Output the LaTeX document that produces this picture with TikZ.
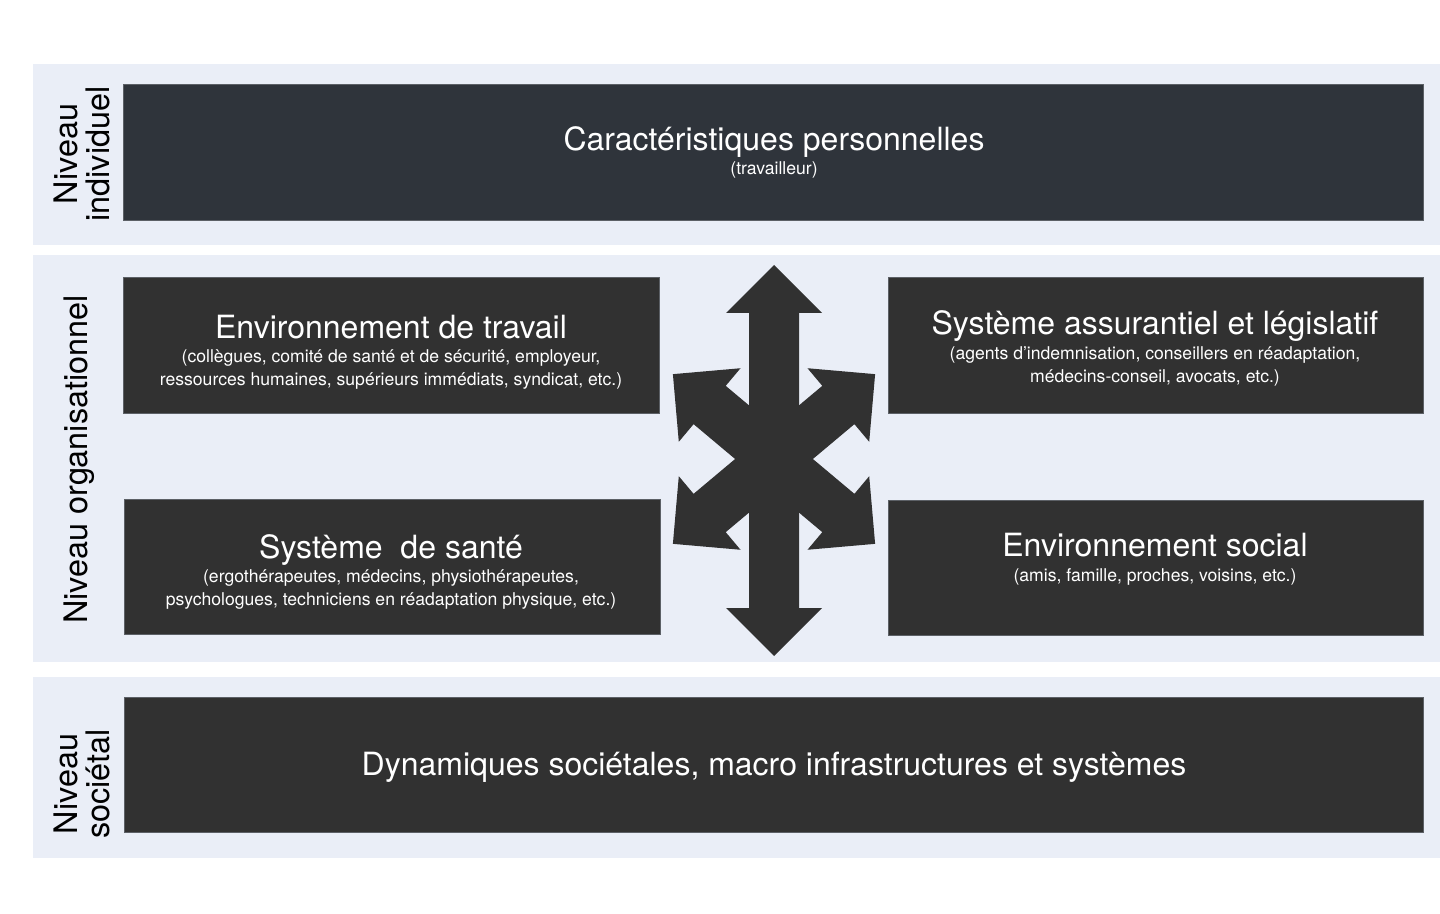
\documentclass[tikz,border=0pt]{standalone}
\usepackage{fontspec}
\setmainfont{TeX Gyre Heros}
\usepackage{xcolor}
\usepackage{tikz}

\definecolor{fond}{HTML}{EAEEF7}
\definecolor{boiteind}{HTML}{2F343B}
\definecolor{boitegris}{HTML}{313131}
\definecolor{bordgris}{HTML}{5C6066}

\begin{document}
\begin{tikzpicture}[x=0.5pt, y=-0.5pt,
		bande/.style={fill=fond},
		boite/.style={fill=boitegris, draw=bordgris, line width=0.5pt},
		titre/.style={text=white, anchor=base, inner sep=0pt, font=\fontsize{16}{19}\selectfont},
		detail/.style={text=white, align=center, inner sep=0pt, font=\fontsize{8.8}{11.8}\selectfont},
		niveau/.style={rotate=90, align=center, inner sep=0pt, font=\fontsize{16.2}{15.8}\selectfont}]
		\useasboundingbox (0,0) rectangle (1440,914);

		\fill[bande] (33,64) rectangle (1440,245);
		\fill[bande] (33,255.5) rectangle (1440,661.5);
		\fill[bande] (33,676.5) rectangle (1440,857.5);

		\node[niveau] (individuel) at (82,154) {Niveau\\individuel};
		\node[niveau, anchor=base] (organisationnel) at (87.5,459.5) {Niveau organisationnel};
		\node[niveau] (societal) at (82,784) {Niveau\\sociétal};

		\draw[boite, fill=boiteind] (123.5,85) rectangle (1423.5,221);
		\node[titre] (carac) at (774,151) {Caractéristiques personnelles};
		\node[detail, anchor=base] (travailleur) at (774,175) {(travailleur)};

		\draw[boite] (123,278) rectangle (659,413.5);
		\node[titre] (travail) at (391,338.5) {Environnement de travail};
		\node[detail] (travailD) at (391,369.5) {(collègues, comité de santé et de sécurité, employeur,\\ressources humaines, supérieurs immédiats, syndicat, etc.)};

		\draw[boite] (888,278) rectangle (1423.5,413.5);
		\node[titre] (assur) at (1155,334.5) {Système assurantiel et législatif};
		\node[detail] (assurD) at (1155,366.5) {(agents d’indemnisation, conseillers en réadaptation,\\médecins-conseil, avocats, etc.)};

		\draw[boite] (124,499) rectangle (660,634);
		\node[titre] (sante) at (391,558.5) {Système~ de santé};
		\node[detail] (santeD) at (391,589.5) {(ergothérapeutes, médecins, physiothérapeutes,\\psychologues, techniciens en réadaptation physique, etc.)};

		\draw[boite] (888,500) rectangle (1423.5,635);
		\node[titre] (social) at (1155,556) {Environnement social};
		\node[detail, anchor=base] (socialD) at (1155,581.5) {(amis, famille, proches, voisins, etc.)};

		\draw[boite] (124.5,697) rectangle (1423.5,832);
		\node[titre] (dynamiques) at (774,775) {Dynamiques sociétales, macro infrastructures et systèmes};

		\coordinate (noyau) at (774,459);
		\foreach \ang/\lon in {90/194, 270/197, 40/132, 140/132, 220/132, 320/132}
			\fill[boitegris, shift={(noyau)}, rotate=\ang] (0,-25) -- (\lon-48,-25) -- (\lon-48,-48) -- (\lon,0) -- (\lon-48,48) -- (\lon-48,25) -- (0,25) -- cycle;

	\end{tikzpicture}
\end{document}
